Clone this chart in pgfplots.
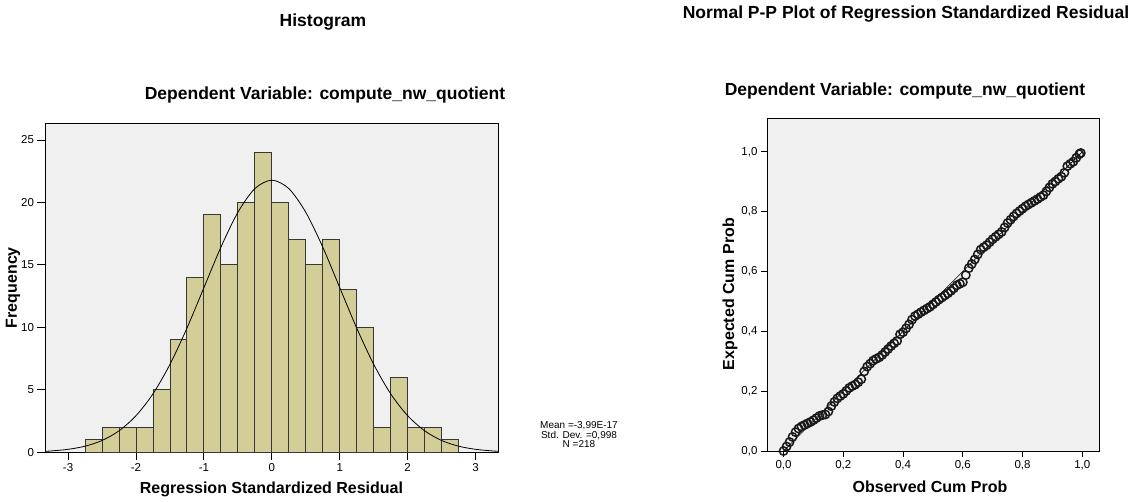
\documentclass[border=0pt]{standalone}
\usepackage{pgfplots}
\pgfplotsset{compat=1.18}
\usepackage{fontspec}
\setmainfont{Liberation Sans}
\definecolor{barfill}{RGB}{211,206,151}
\definecolor{bardraw}{RGB}{55,55,55}
\definecolor{plotbg}{RGB}{240,240,240}
\begin{document}
\begin{tikzpicture}
\useasboundingbox (0pt,0pt) rectangle (1138pt,501pt);
\pgfplotsset{
  spss/.style={
    scale only axis,
    axis background/.style={fill=plotbg},
    axis line style={black, line width=0.9pt},
    tick align=outside,
    xtick pos=bottom, ytick pos=left,
    major tick style={black, line width=0.9pt},
    tick label style={font=\fontsize{11.5}{12}\selectfont},
    label style={font=\bfseries\fontsize{16}{18}\selectfont},
    /pgf/number format/assume math mode=true,
    /pgf/number format/use comma,
    clip=true,
  }
}
% Histogram
\begin{axis}[spss,
  at={(45pt,48.7pt)}, anchor=south west,
  width=453pt, height=329.3pt,
  xmin=-3.34, xmax=3.33, ymin=0, ymax=26.36,
  xtick={-3,-2,-1,0,1,2,3},
  ytick={0,5,10,15,20,25},
  major tick length=7.5pt,
  xlabel={Regression Standardized Residual},
  ylabel={Frequency},
  xlabel style={at={(axis description cs:0.5,-0.1115)}, anchor=center},
  ylabel style={at={(axis description cs:-0.0706,0.5)}, anchor=center},
]
\addplot[ybar interval, fill=barfill, draw=bardraw, line width=0.9pt] coordinates {
(-2.75,1) (-2.5,2) (-2.25,2) (-2.0,2) (-1.75,5) (-1.5,9) (-1.25,14) (-1.0,19)
(-0.75,15) (-0.5,20) (-0.25,24) (0.0,20) (0.25,17) (0.5,15) (0.75,17) (1.0,13)
(1.25,10) (1.5,2) (1.75,6) (2.0,2) (2.25,2) (2.5,1) (2.75,1)};
\addplot[black, line width=0.8pt, smooth] coordinates {
(-3.34,0.081) (-3.25,0.108) (-3.0,0.238) (-2.75,0.489) (-2.5,0.945) (-2.25,1.72)
(-2.0,2.93) (-1.75,4.68) (-1.5,7.04) (-1.25,9.94) (-1.0,13.18) (-0.75,16.42)
(-0.5,19.21) (-0.25,21.11) (0,21.78) (0.25,21.11) (0.5,19.21) (0.75,16.42)
(1.0,13.18) (1.25,9.94) (1.5,7.04) (1.75,4.68) (2.0,2.93) (2.25,1.72)
(2.5,0.945) (2.75,0.489) (3.0,0.238) (3.25,0.108) (3.34,0.081)};
\end{axis}
% P-P plot
\begin{axis}[spss,
  at={(767pt,50pt)}, anchor=south west,
  width=332pt, height=333pt,
  xmin=-0.0555, xmax=1.056, ymin=0, ymax=1.113,
  xtick={0,0.2,0.4,0.6,0.8,1.0},
  ytick={0,0.2,0.4,0.6,0.8,1.0},
  xticklabel style={/pgf/number format/.cd, fixed, fixed zerofill, precision=1, use comma},
  yticklabel style={/pgf/number format/.cd, fixed, fixed zerofill, precision=1, use comma},
  major tick length=6pt,
  xlabel={Observed Cum Prob},
  ylabel={Expected Cum Prob},
  xlabel style={at={(axis description cs:0.491,-0.108)}, anchor=center},
  ylabel style={at={(axis description cs:-0.1114,0.471)}, anchor=center},
]
\addplot[black, line width=0.6pt] coordinates {(0,0) (1,1)};
\addplot[only marks, mark=o, mark size=4.2pt, black!90, mark options={line width=1.5pt}] coordinates {
(0.00,0.000) (0.01,0.015) (0.02,0.030) (0.03,0.047) (0.04,0.063) (0.05,0.075)
(0.06,0.082) (0.07,0.087) (0.08,0.092) (0.09,0.097) (0.10,0.103) (0.11,0.110)
(0.12,0.117) (0.13,0.120) (0.14,0.122) (0.15,0.132) (0.16,0.150) (0.17,0.164)
(0.18,0.176) (0.19,0.184) (0.20,0.191) (0.21,0.201) (0.22,0.211) (0.23,0.217)
(0.24,0.222) (0.25,0.230) (0.26,0.240) (0.27,0.266) (0.28,0.282) (0.29,0.292)
(0.30,0.302) (0.31,0.308) (0.32,0.313) (0.33,0.321) (0.34,0.331) (0.35,0.341)
(0.36,0.351) (0.37,0.360) (0.38,0.368) (0.39,0.390) (0.40,0.397) (0.41,0.410)
(0.42,0.423) (0.43,0.439) (0.44,0.451) (0.45,0.457) (0.46,0.464) (0.47,0.470)
(0.48,0.476) (0.49,0.482) (0.50,0.490) (0.51,0.498) (0.52,0.506) (0.53,0.513)
(0.54,0.520) (0.55,0.527) (0.56,0.535) (0.57,0.544) (0.58,0.554) (0.59,0.559)
(0.60,0.564) (0.61,0.588) (0.62,0.611) (0.63,0.625) (0.64,0.640) (0.65,0.657)
(0.66,0.673) (0.67,0.681) (0.68,0.688) (0.69,0.698) (0.70,0.708) (0.71,0.716)
(0.72,0.724) (0.73,0.732) (0.74,0.747) (0.75,0.762) (0.76,0.773) (0.77,0.784)
(0.78,0.794) (0.79,0.802) (0.80,0.810) (0.81,0.818) (0.82,0.824) (0.83,0.830)
(0.84,0.836) (0.85,0.842) (0.86,0.849) (0.87,0.855) (0.88,0.868) (0.89,0.881)
(0.90,0.893) (0.91,0.901) (0.92,0.910) (0.93,0.917) (0.94,0.930) (0.95,0.952)
(0.96,0.960) (0.97,0.967) (0.98,0.980) (0.99,0.992) (0.995,0.996)};
\end{axis}
% Titles and annotations
\node[font=\bfseries\fontsize{17.5}{20}\selectfont, inner sep=0] at (323pt,479pt) {Histogram};
\node[font=\bfseries\fontsize{17.5}{20}\selectfont, inner sep=0] at (325pt,406pt) {Dependent Variable: compute\_nw\_quotient};
\node[font=\bfseries\fontsize{17.5}{20}\selectfont, inner sep=0] at (906pt,487pt) {Normal P-P Plot of Regression Standardized Residual};
\node[font=\bfseries\fontsize{17.5}{20}\selectfont, inner sep=0] at (905pt,410pt) {Dependent Variable: compute\_nw\_quotient};
\node[font=\fontsize{10}{9.5}\selectfont, align=center, inner sep=0] at (579pt,66pt) {Mean =-3,99E-17\\Std. Dev. =0,998\\N =218};
\end{tikzpicture}
\end{document}
